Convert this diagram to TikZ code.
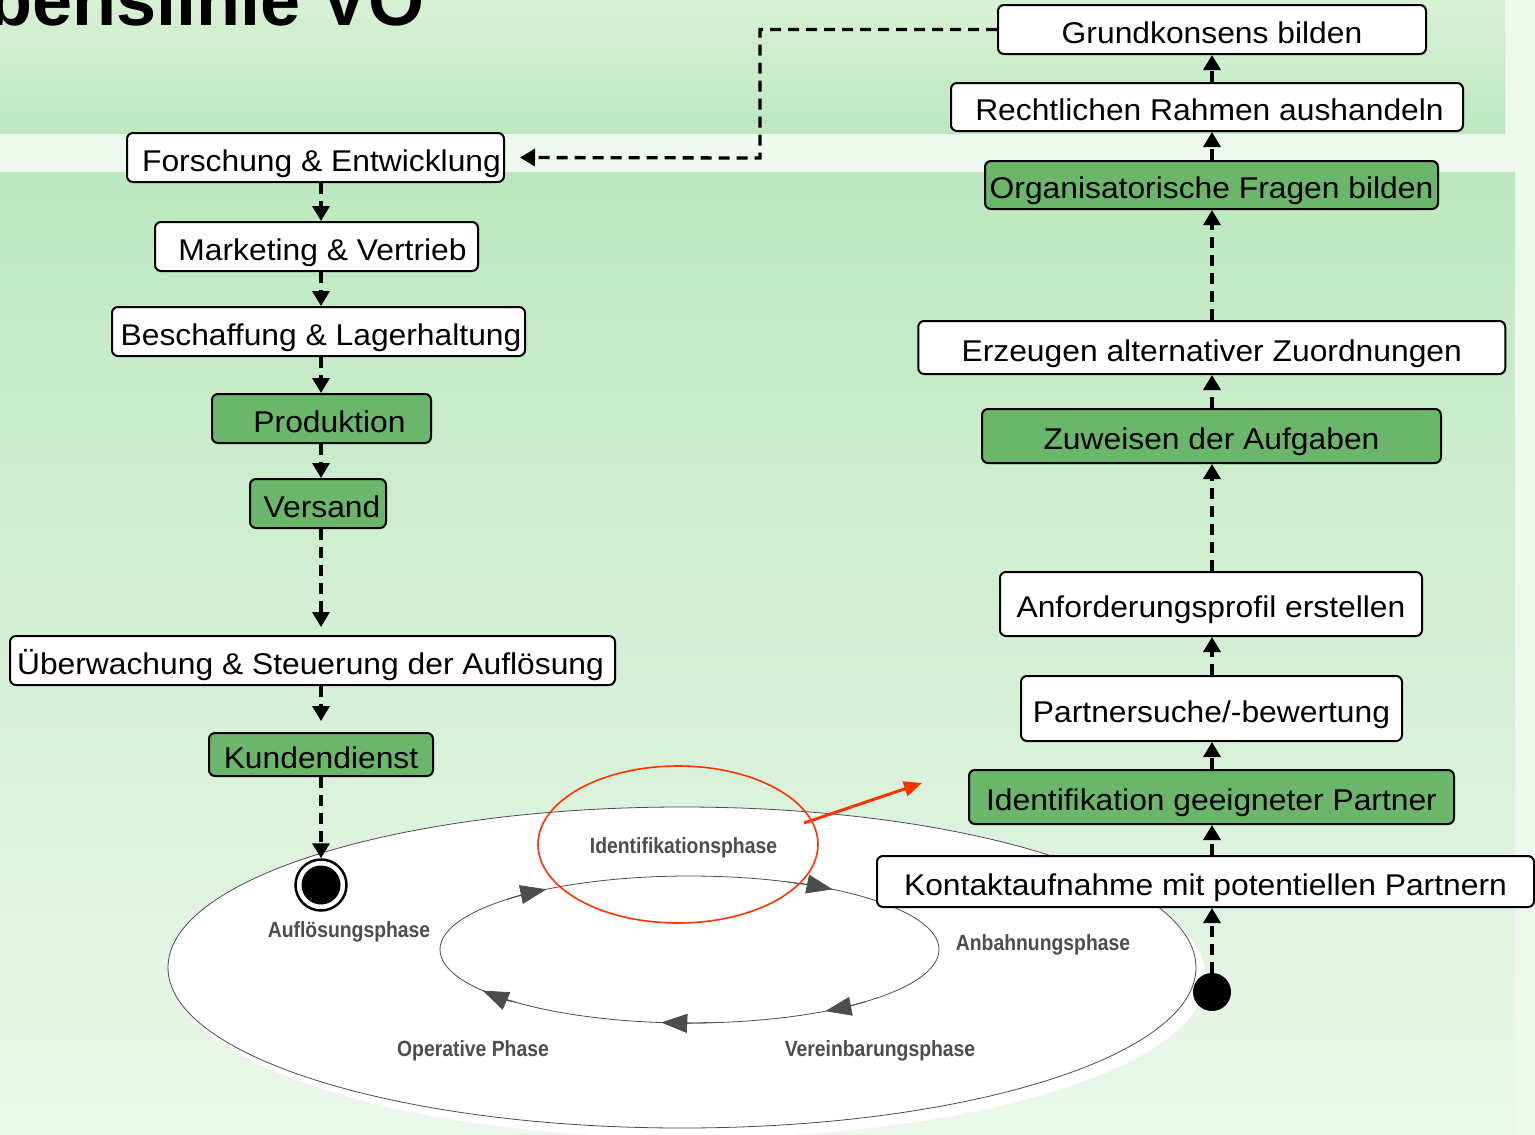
\documentclass[tikz,border=0pt]{standalone}
\usepackage{fontspec}
\setmainfont{Liberation Sans}[FakeStretch=1.06]
\newfontfamily\titlefont{Liberation Sans}
\usepackage{graphicx}
\usetikzlibrary{arrows.meta}
\definecolor{bglight}{HTML}{EEF8EE}
\definecolor{topA}{HTML}{D8F1D6}
\definecolor{topB}{HTML}{BDE8BF}
\definecolor{midA}{HTML}{BDE8BF}
\definecolor{midB}{HTML}{EBF7EB}
\definecolor{boxgreen}{HTML}{6BB66B}
\definecolor{phgray}{HTML}{4D4D4D}
\definecolor{redc}{HTML}{FF3300}
\begin{document}
\begin{tikzpicture}[x=1pt,y=-1pt,
  box/.style={draw=black, line width=2pt, rounded corners=6pt, inner sep=0pt,
    font=\fontsize{30}{34}\selectfont, text height=31pt, text depth=4pt},
  wbox/.style={box, fill=white},
  gbox/.style={box, fill=boxgreen},
  flow/.style={line width=3.3pt, dash pattern=on 11pt off 7pt,
    -{Triangle[length=15pt,width=17pt]}},
  phase/.style={font=\bfseries\fontsize{22}{26}\selectfont, text=phgray,
    inner sep=0pt, text height=16pt, text depth=4.5pt},
  cyc/.style={draw=phgray, line width=0.8pt},
  cycarrow/.style={cyc, -{Triangle[length=26pt,width=19pt]}, fill=phgray}
]
\useasboundingbox (0,0) rectangle (1535,1135);
\clip (0,0) rectangle (1535,1135);
% background
\fill[bglight] (0,0) rectangle (1535,1135);
\shade[top color=topA, bottom color=topB] (0,0) rectangle (1505,133);
\shade[top color=midA, bottom color=midB] (0,172) rectangle (1515,1135);
% title (cut off at top, as in the reference)
\node[anchor=base east, inner sep=0pt, font=\titlefont\bfseries\fontsize{72}{80}\selectfont] (title) at (425,25) {Lebenslinie VO};

% phase ellipses
\fill[white] (692,977.5) ellipse [x radius=514, y radius=160.5];
\draw[cyc, fill=white] (682,967.5) ellipse [x radius=514, y radius=160.5];
\coordinate (ic) at (689.5,949.5);
\draw[cyc] (ic) ellipse [x radius=249.5, y radius=73.5];
\foreach \t in {235,305,57,96.5,146}
  \draw[cycarrow] ([shift={(\t-12:249.5 and 73.5)}]ic) arc[start angle=\t-12, end angle=\t, x radius=249.5, y radius=73.5];

\node[phase] (ph1) at (683.5,848) {\scalebox{0.83}[1]{Identifikationsphase}};
\node[phase] (ph2) at (349,932) {\scalebox{0.83}[1]{Auflösungsphase}};
\node[phase] (ph3) at (1043,945) {\scalebox{0.83}[1]{Anbahnungsphase}};
\node[phase] (ph4) at (473,1051) {\scalebox{0.83}[1]{Operative Phase}};
\node[phase] (ph5) at (880,1051) {\scalebox{0.83}[1]{Vereinbarungsphase}};

% red highlight
\draw[redc, line width=1.6pt] (678,844.5) ellipse [x radius=140, y radius=78.5];
\coordinate (ra) at (804,823);
\coordinate (rb) at (922,783);
\draw[redc, line width=3pt, -{Triangle[length=18pt,width=15pt]}] (ra) -- (rb);

% start / end states
\node[circle, draw=black, line width=2.5pt, fill=white, minimum size=51pt, inner sep=0pt] (end) at (321,885) {};
\node[circle, fill=black, minimum size=39pt, inner sep=0pt] (endin) at (321,885) {};
\node[circle, fill=black, minimum size=38pt, inner sep=0pt] (start) at (1212,992) {};

% left column
\node[wbox, minimum width=377pt, minimum height=49pt] (F) at (315.5,157.5) {\hspace*{12pt}Forschung \& Entwicklung};
\node[wbox, minimum width=323pt, minimum height=49pt] (M) at (316.5,246.5) {\hspace*{12pt}Marketing \& Vertrieb};
\node[wbox, minimum width=413pt, minimum height=49pt] (B) at (318.5,331.5) {\hspace*{5pt}Beschaffung \& Lagerhaltung};
\node[gbox, minimum width=219pt, minimum height=49pt] (P) at (321.5,418.5) {\hspace*{16pt}Produktion};
\node[gbox, minimum width=136pt, minimum height=49pt] (V) at (318,503.5) {\hspace*{8pt}Versand};
\node[wbox, minimum width=605pt, minimum height=49pt] (U) at (312.5,660.5) {Überwachung \& Steuerung der Auflösung\hspace*{4pt}};
\node[gbox, minimum width=224pt, minimum height=43pt] (K) at (321,754.5) {Kundendienst};

% right column
\node[wbox, minimum width=428pt, minimum height=49pt] (G) at (1212,29.5) {Grundkonsens bilden};
\node[wbox, minimum width=512pt, minimum height=48pt] (R) at (1207,107) {\hspace*{5pt}Rechtlichen Rahmen aushandeln};
\node[gbox, minimum width=453pt, minimum height=48pt] (O) at (1211.5,185) {Organisatorische Fragen bilden};
\node[wbox, minimum width=587pt, minimum height=53pt] (E) at (1211.75,347.5) {Erzeugen alternativer Zuordnungen};
\node[gbox, minimum width=459pt, minimum height=54pt] (Z) at (1211.5,436) {Zuweisen der Aufgaben};
\node[wbox, minimum width=422pt, minimum height=64pt] (A) at (1211,604) {Anforderungsprofil erstellen};
\node[wbox, minimum width=381pt, minimum height=65pt] (Pa) at (1211.5,708.5) {Partnersuche/-bewertung};
\node[gbox, minimum width=485pt, minimum height=54pt] (I) at (1211.5,797) {Identifikation geeigneter Partner};
\node[wbox, minimum width=657pt, minimum height=51pt] (Ko) at (1205.5,881.5) {Kontaktaufnahme mit potentiellen Partnern};

% connectors left
\draw[flow] (F.south -| end) -- (end |- M.north);
\draw[flow] (M.south -| end) -- (end |- B.north);
\draw[flow] (B.south -| end) -- (end |- P.north);
\draw[flow] (P.south -| end) -- (end |- V.north);
\draw[flow, shorten >=8pt] (V.south -| end) -- (end |- U.north);
\draw[flow, shorten >=11pt] (U.south -| end) -- (end |- K.north);
\draw[flow] (K.south -| end) -- (end);

% connectors right
\draw[flow] (start) -- (start |- Ko.south);
\draw[flow] (Ko.north -| start) -- (start |- I.south);
\draw[flow] (I.north -| start) -- (start |- Pa.south);
\draw[flow] (Pa.north -| start) -- (start |- A.south);
\draw[flow] (A.north -| start) -- (start |- Z.south);
\draw[flow] (Z.north -| start) -- (start |- E.south);
\draw[flow] (E.north -| start) -- (start |- O.south);
\draw[flow] (O.north -| start) -- (start |- R.south);
\draw[flow] (R.north -| start) -- (start |- G.south);

% feedback to left column
\coordinate (c2) at (760,158);
\draw[flow, shorten >=15pt] (G.west) -| (c2) -- (F.east);
\end{tikzpicture}
\end{document}
